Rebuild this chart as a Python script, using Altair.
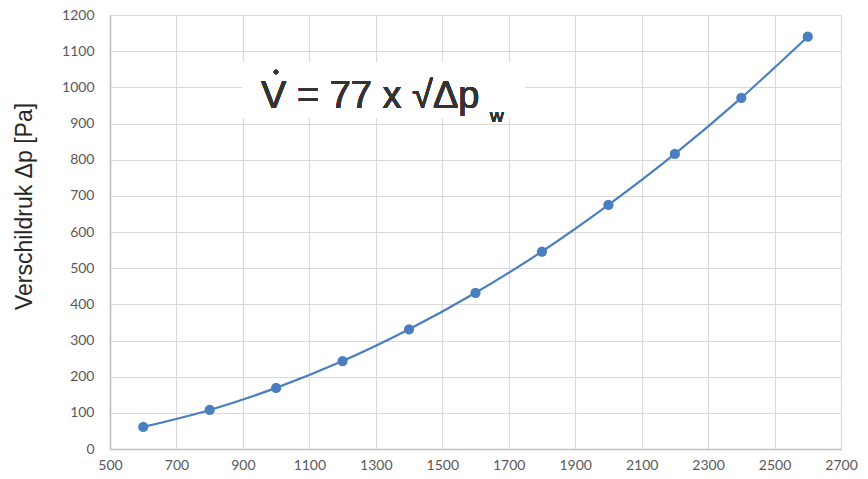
import altair as alt
import pandas as pd

flow = [600, 800, 1000, 1200, 1400, 1600, 1800, 2000, 2200, 2400, 2600]
pressure = [61, 108, 169, 243, 331, 432, 546, 675, 816, 971, 1140]
x_ticks = [500, 700, 900, 1100, 1300, 1500, 1700, 1900, 2100, 2300, 2500, 2700]
y_ticks = [0, 100, 200, 300, 400, 500, 600, 700, 800, 900, 1000, 1100, 1200]

df = pd.DataFrame({"flow": flow, "pressure": pressure})
color = "#4a7ebf"

x_enc = alt.X("flow:Q", scale=alt.Scale(domain=[500, 2700], nice=False, zero=False),
              axis=alt.Axis(values=x_ticks, format="d", title=None, grid=True, ticks=False,
                            labelPadding=9, labelFontSize=14, labelFont="Lato",
                            labelColor="#595959", domainColor="#bfbfbf", domainWidth=1.5,
                            gridColor="#d9d9d9", gridWidth=1.2, labelFlush=False,
                            labelOverlap=False))
y_enc = alt.Y("pressure:Q", scale=alt.Scale(domain=[0, 1200], nice=False),
              axis=alt.Axis(values=y_ticks, format="d", title="Verschildruk Δp [Pa]", grid=True,
                            ticks=False, labelOverlap=False, labelFlush=False,
                            labelPadding=16, labelFontSize=14, labelFont="Lato",
                            labelColor="#595959", domainColor="#bfbfbf", domainWidth=1.5,
                            gridColor="#d9d9d9", gridWidth=1.2,
                            titleFont="Liberation Sans", titleFontSize=23, titleFontWeight="normal",
                            titleColor="#262626", titleAngle=270, titleX=-86, titleY=191,
                            titleAlign="center", titleBaseline="middle"))

base = alt.Chart(df)
line = base.mark_line(color=color, strokeWidth=2.2, interpolate="monotone").encode(x=x_enc, y=y_enc)
pts = base.mark_circle(color=color, size=105, opacity=1).encode(x=x_enc, y=y_enc)

box = base.mark_rect(color="white").encode(
    x=alt.value(132), x2=alt.value(415), y=alt.value(47), y2=alt.value(103))
main_txt = base.mark_text(text="V = 77 x √Δp", align="left", baseline="alphabetic",
                          font="Liberation Sans", fontSize=38, fontWeight="normal",
                          color="#333333").encode(
    x=alt.value(151), y=alt.value(93))
sub_txt = base.mark_text(text="w", align="left", baseline="alphabetic",
                         font="Liberation Sans", fontSize=19, fontWeight="normal",
                         color="#333333").encode(
    x=alt.value(380), y=alt.value(107))
dot = base.mark_point(filled=True, shape="circle", size=22, color="#333333", opacity=1).encode(
    x=alt.value(166), y=alt.value(57))

chart = alt.layer(line, pts, box, main_txt, sub_txt, dot).properties(
    width=731, height=434,
    autosize=alt.AutoSizeParams(type="none"),
    padding={"left": 102, "top": 7, "right": 19, "bottom": 22},
).configure_view(stroke=None)

chart.save("out.html", embed_options={"renderer": "svg", "actions": False})
